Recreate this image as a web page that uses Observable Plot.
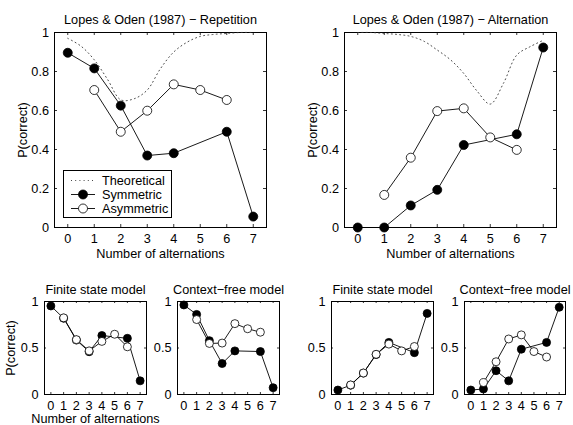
<!DOCTYPE html>
<html><head><meta charset="utf-8">
<script src="https://cdn.jsdelivr.net/npm/d3@7"></script>
<script src="https://cdn.jsdelivr.net/npm/@observablehq/plot@0.6"></script>
<style>
body{margin:0;background:#fff;}
#fig{position:relative;width:573px;height:425px;background:#fff;font-family:"Liberation Sans",Arial,sans-serif;overflow:hidden;}
#fig > svg, #fig > div{position:absolute;}
</style></head><body><div id="fig"></div>
<script>
// ---- tick labels ----
const xTicks = [0,1,2,3,4,5,6,7];
const yTicksTop = [0,0.2,0.4,0.6,0.8,1];
const yTicksBottom = [0,0.5,1];

// ---- Lopes & Oden (1987) – Repetition ----
const repSymX = [0,1,2,3,4,6,7];
const repSymP = [0.896,0.816,0.625,0.369,0.381,0.491,0.056];
const repAsymX = [1,2,3,4,5,6];
const repAsymP = [0.705,0.491,0.599,0.734,0.705,0.654];
const theoX = [0,0.5,1,1.5,2,2.5,3,3.5,4,4.5,5,5.5,6,6.5,7];
const repTheoP = [0.97,0.93,0.86,0.76,0.655,0.66,0.705,0.815,0.90,0.95,0.98,0.99,0.995,1.0,1.0];

// ---- Lopes & Oden (1987) – Alternation ----
const altSymX = [0,1,2,3,4,6,7];
const altSymP = [0,0,0.113,0.193,0.423,0.478,0.923];
const altAsymX = [1,2,3,4,5,6];
const altAsymP = [0.167,0.358,0.597,0.611,0.462,0.398];
const altTheoP = [1.0,1.0,0.995,0.99,0.98,0.955,0.91,0.86,0.79,0.70,0.633,0.74,0.884,0.927,0.96];

// ---- Model panels ----
const symX = [0,1,2,3,4,6,7];
const asymX = [1,2,3,4,5,6];
const fsRepSymP = [0.952,0.82,0.585,0.46,0.634,0.604,0.147];
const fsRepAsymP = [0.824,0.59,0.469,0.571,0.648,0.513];
const cfRepSymP = [0.963,0.861,0.579,0.333,0.469,0.462,0.073];
const cfRepAsymP = [0.806,0.549,0.553,0.762,0.707,0.670];
const fsAltSymP = [0.048,0.10,0.23,0.43,0.56,0.45,0.872];
const fsAltAsymP = [0.103,0.231,0.432,0.542,0.469,0.516];
const cfAltSymP = [0.048,0.059,0.256,0.147,0.487,0.56,0.938];
const cfAltAsymP = [0.128,0.352,0.597,0.641,0.462,0.403];

const zip = (xs, ys) => xs.map((x, i) => ({x, p: ys[i]}));
const FONT = "Liberation Sans, Arial, Helvetica, sans-serif";
const FS = 12.7;

function panel(o) {
  const marks = [];
  const tl = o.tickLen;
  // inward ticks on all four sides
  marks.push(Plot.tickX(xTicks, {x: d => d, insetTop: o.h - tl, stroke: "black", strokeWidth: 0.8}));
  marks.push(Plot.tickX(xTicks, {x: d => d, insetBottom: o.h - tl, stroke: "black", strokeWidth: 0.8}));
  marks.push(Plot.tickY(o.yTicks, {y: d => d, insetRight: o.w - tl, stroke: "black", strokeWidth: 0.8}));
  marks.push(Plot.tickY(o.yTicks, {y: d => d, insetLeft: o.w - tl, stroke: "black", strokeWidth: 0.8}));
  marks.push(Plot.frame({stroke: "black", strokeWidth: 1}));
  marks.push(Plot.axisX(xTicks, {tickSize: 0, tickPadding: o.xPad, tickFormat: d => String(d), label: null, fontSize: FS, fill: "black"}));
  marks.push(Plot.axisY(o.yTicks, {tickSize: 0, tickPadding: o.yPad, tickFormat: d => String(d), label: null, fontSize: FS, fill: "black"}));
  if (o.theo) {
    marks.push(Plot.line(o.theo, {x: "x", y: "p", stroke: "#333", strokeWidth: 0.9, strokeDasharray: "1,3.2", curve: "catmull-rom"}));
  }
  marks.push(Plot.line(o.sym, {x: "x", y: "p", stroke: "black", strokeWidth: 0.9}));
  marks.push(Plot.dot(o.sym, {x: "x", y: "p", r: o.r, fill: "black", stroke: "black", strokeWidth: 0.8}));
  marks.push(Plot.line(o.asym, {x: "x", y: "p", stroke: "black", strokeWidth: 0.9}));
  marks.push(Plot.dot(o.asym, {x: "x", y: "p", r: o.r, fill: "white", stroke: "black", strokeWidth: 0.8}));
  marks.push(Plot.text([o.title], {text: d => d, frameAnchor: "top", dy: o.titleDy, fontSize: FS, fill: "black", lineAnchor: "middle"}));
  if (o.xLabel) marks.push(Plot.text([o.xLabel], {text: d => d, frameAnchor: "bottom", dy: o.xLabelDy, fontSize: FS, fill: "black", lineAnchor: "middle"}));
  if (o.yLabel) marks.push(Plot.text([o.yLabel], {text: d => d, frameAnchor: "left", dx: o.yLabelDx, rotate: -90, textAnchor: "middle", lineAnchor: "middle", fontSize: FS, fill: "black"}));
  const svg = Plot.plot({
    width: o.ml + o.w + o.mr,
    height: o.mt + o.h + o.mb,
    marginLeft: o.ml, marginRight: o.mr, marginTop: o.mt, marginBottom: o.mb,
    style: {fontFamily: FONT, fontSize: FS + "px", background: "transparent", overflow: "visible", color: "black"},
    x: {domain: [-0.5, 7.5]},
    y: {domain: [0, 1]},
    marks
  });
  svg.style.left = o.left + "px";
  svg.style.top = o.top + "px";
  return svg;
}

const fig = document.getElementById("fig");

const big = {w: 212, h: 195, ml: 54, mr: 10, mt: 32, mb: 40, tickLen: 3, r: 4.5, xPad: 6, yPad: 5.5, titleDy: -13, xLabelDy: 26, yLabelDx: -32, yTicks: yTicksTop};
fig.appendChild(panel({...big, left: 0, top: 0, title: "Lopes & Oden (1987) − Repetition", xLabel: "Number of alternations", yLabel: "P(correct)",
  sym: zip(repSymX, repSymP), asym: zip(repAsymX, repAsymP), theo: zip(theoX, repTheoP)}));
fig.appendChild(panel({...big, left: 290, top: 0, title: "Lopes & Oden (1987) − Alternation", xLabel: "Number of alternations", yLabel: "P(correct)",
  sym: zip(altSymX, altSymP), asym: zip(altAsymX, altAsymP), theo: zip(theoX, altTheoP)}));

const small = {h: 93, mr: 8, mt: 31, mb: 31, tickLen: 2, r: 4, xPad: 6, yPad: 6, titleDy: -12, xLabelDy: 24, yLabelDx: -34, yTicks: yTicksBottom};
fig.appendChild(panel({...small, left: 0, top: 270, ml: 44, w: 102, title: "Finite state model", xLabel: "Number of alternations", yLabel: "P(correct)",
  sym: zip(symX, fsRepSymP), asym: zip(asymX, fsRepAsymP)}));
fig.appendChild(panel({...small, left: 150, top: 270, ml: 27, w: 102, title: "Context−free model",
  sym: zip(symX, cfRepSymP), asym: zip(asymX, cfRepAsymP)}));
fig.appendChild(panel({...small, left: 290, top: 270, ml: 41, w: 102, title: "Finite state model",
  sym: zip(symX, fsAltSymP), asym: zip(asymX, fsAltAsymP)}));
fig.appendChild(panel({...small, left: 440, top: 270, ml: 24, w: 101, title: "Context−free model",
  sym: zip(symX, cfAltSymP), asym: zip(asymX, cfAltAsymP)}));

// ---- legend (top-left panel) ----
const legendItems = ["Theoretical", "Symmetric", "Asymmetric"];
const leg = document.createElement("div");
leg.style.cssText = "left:63px;top:170px;width:107px;height:46px;border:1px solid black;background:white;";
const ls = d3.create("svg").attr("width", 107).attr("height", 46).style("font-family", FONT).style("font-size", FS + "px");
legendItems.forEach((name, i) => {
  const cy = 9.5 + i * 14;
  const g = ls.append("g");
  if (i === 0) {
    g.append("line").attr("x1", 7).attr("x2", 31).attr("y1", cy).attr("y2", cy).attr("stroke", "#333").attr("stroke-width", 0.9).attr("stroke-dasharray", "1,3.2");
  } else {
    g.append("line").attr("x1", 7).attr("x2", 31).attr("y1", cy).attr("y2", cy).attr("stroke", "black").attr("stroke-width", 0.9);
    g.append("circle").attr("cx", 19).attr("cy", cy).attr("r", 4.5).attr("fill", i === 1 ? "black" : "white").attr("stroke", "black").attr("stroke-width", 0.8);
  }
  g.append("text").attr("x", 38).attr("y", cy).attr("dy", "0.35em").attr("fill", "black").text(name);
});
leg.appendChild(ls.node());
fig.appendChild(leg);
</script>
</body></html>
